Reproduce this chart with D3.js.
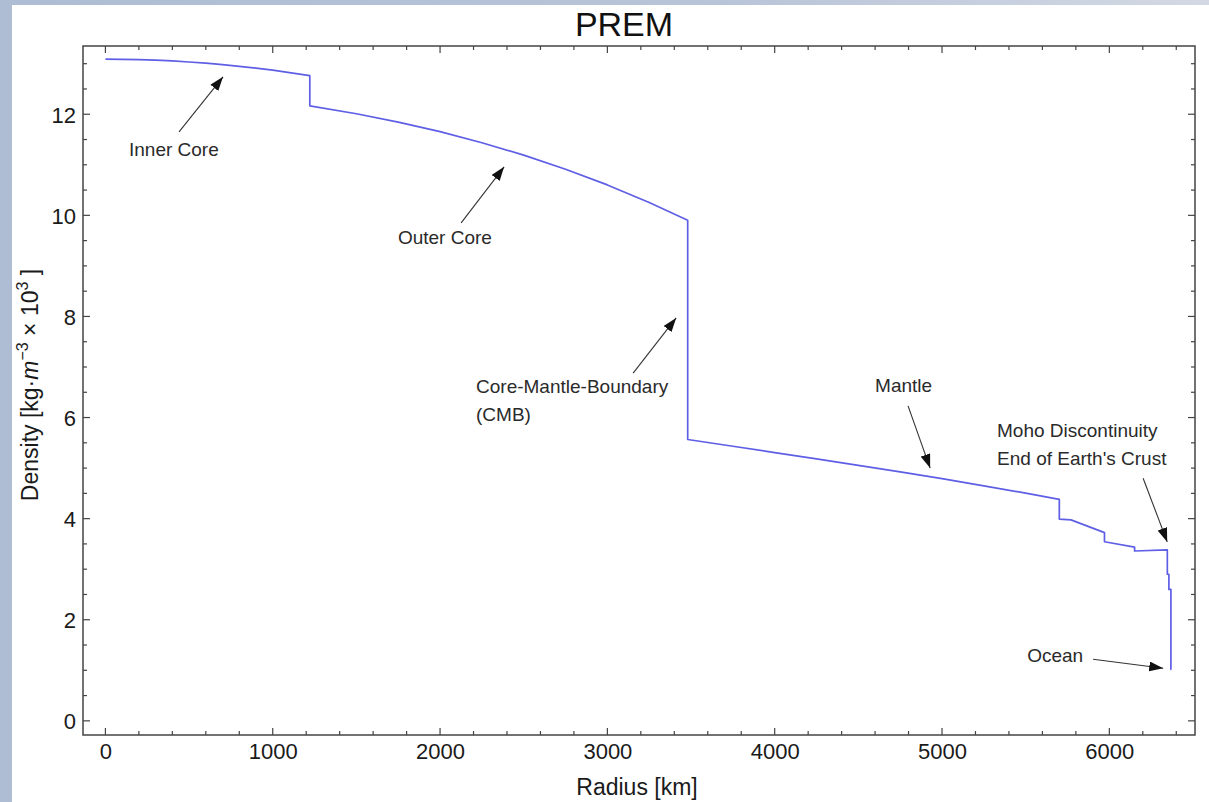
<!DOCTYPE html>
<html>
<head>
<meta charset="utf-8">
<script src="https://cdn.jsdelivr.net/npm/d3@7"></script>
<style>
  html, body { margin: 0; padding: 0; }
  body { width: 1209px; height: 802px; overflow: hidden; }
  svg { display: block; }
</style>
</head>
<body>
<svg id="chart" width="1209" height="802"></svg>
<script>
// ---- Data ----
const radiusKm = [
  0, 100, 200, 300, 400, 500, 600, 700, 800, 900, 1000, 1100, 1221.5,
  1221.5, 1500, 1750, 2000, 2250, 2500, 2750, 3000, 3250, 3480,
  3480, 3750, 4000, 4250, 4500, 4750, 5000, 5250, 5500, 5701,
  5701, 5771, 5971,
  5971, 6151,
  6151, 6346.6,
  6346.6, 6356,
  6356, 6368,
  6368, 6371
];
const density = [
  13.09, 13.086, 13.08, 13.069, 13.054, 13.034, 13.01, 12.982, 12.948, 12.912, 12.871, 12.825, 12.764,
  12.166, 12.01, 11.845, 11.655, 11.437, 11.191, 10.913, 10.602, 10.255, 9.904,
  5.566, 5.432, 5.307, 5.182, 5.055, 4.924, 4.79, 4.65, 4.504, 4.381,
  3.992, 3.976, 3.724,
  3.543, 3.436,
  3.36, 3.381,
  2.90, 2.90,
  2.60, 2.60,
  1.02, 1.02
];
const xTickValues = [0, 1000, 2000, 3000, 4000, 5000, 6000];
const yTickValues = [0, 2, 4, 6, 8, 10, 12];

// annotations: text lines, text anchor (data coords), arrow tail & tip (data coords)
const annotations = [
  { lines: ["Inner Core"], tx: 141, ty: 11.17, ax: 440, ay: 11.65, bx: 703, by: 12.74 },
  { lines: ["Outer Core"], tx: 1748, ty: 9.43, ax: 2126, ay: 9.85, bx: 2383, by: 10.96 },
  { lines: ["Core-Mantle-Boundary", "(CMB)"], tx: 2215, ty: 6.49, ax: 3154, ay: 6.88, bx: 3411, by: 7.97 },
  { lines: ["Mantle"], tx: 4600, ty: 6.50, ax: 4797, ay: 6.23, bx: 4929, by: 5.0 },
  { lines: ["Moho Discontinuity", "End of Earth's Crust"], tx: 5329, ty: 5.61, ax: 6202, ay: 4.80, bx: 6346, by: 3.54 },
  { lines: ["Ocean"], tx: 5509, ty: 1.16, ax: 5903, ay: 1.22, bx: 6322, by: 1.04 }
];

// ---- Layout ----
const svg = d3.select("#chart");
const W = 1209, H = 802;
const frame = { left: 83, top: 46, right: 1195, bottom: 735 };

// background
const defs = svg.append("defs");
const bg = defs.append("linearGradient").attr("id", "bg").attr("x1", "0").attr("y1", "0").attr("x2", "1").attr("y2", "0");
bg.append("stop").attr("offset", "0").attr("stop-color", "#aebdd3");
bg.append("stop").attr("offset", "0.6").attr("stop-color", "#b8c4d8");
bg.append("stop").attr("offset", "1").attr("stop-color", "#d3d9e4");
svg.append("rect").attr("width", W).attr("height", H).attr("fill", "url(#bg)");
svg.append("rect").attr("x", 12).attr("y", 5).attr("width", W - 12).attr("height", H - 5).attr("fill", "#ffffff");

const marker = defs.append("marker")
  .attr("id", "arrow").attr("viewBox", "0 0 14 10")
  .attr("refX", 14).attr("refY", 5)
  .attr("markerWidth", 14).attr("markerHeight", 10)
  .attr("markerUnits", "userSpaceOnUse")
  .attr("orient", "auto");
marker.append("path").attr("d", "M0,0 L14,5 L0,10 Z").attr("fill", "#111");

const x = d3.scaleLinear().domain([-134, 6512]).range([frame.left, frame.right]);
const y = d3.scaleLinear().domain([-0.28, 13.35]).range([frame.bottom, frame.top]);

const font = "'Liberation Sans', Arial, sans-serif";
const frameColor = "#444";

// ticks
const xMinor = d3.range(0, 6401, 200);
const yMinor = d3.range(0, 13.01, 0.5);
const tickG = svg.append("g").attr("stroke", frameColor).attr("stroke-width", 1.2);
xMinor.forEach(v => {
  const len = (v % 1000 === 0) ? 7 : 4;
  tickG.append("line").attr("x1", x(v)).attr("x2", x(v)).attr("y1", frame.bottom).attr("y2", frame.bottom - len);
  tickG.append("line").attr("x1", x(v)).attr("x2", x(v)).attr("y1", frame.top).attr("y2", frame.top + len);
});
yMinor.forEach(v => {
  const len = (Math.abs(v % 2) < 1e-9) ? 7 : 4;
  tickG.append("line").attr("y1", y(v)).attr("y2", y(v)).attr("x1", frame.left).attr("x2", frame.left + len);
  tickG.append("line").attr("y1", y(v)).attr("y2", y(v)).attr("x1", frame.right).attr("x2", frame.right - len);
});

// axes labels via d3 axes (lines hidden, labels only)
const xAxis = d3.axisBottom(x).tickValues(xTickValues).tickSize(0).tickPadding(0).tickFormat(d3.format("d"));
const xg = svg.append("g").attr("transform", `translate(0,${frame.bottom + 8})`).call(xAxis);
xg.select(".domain").remove();
xg.selectAll("text").attr("font-family", font).attr("font-size", 22).attr("fill", "#1a1a1a").attr("dy", "0.71em");

const yAxis = d3.axisLeft(y).tickValues(yTickValues).tickSize(0).tickPadding(0).tickFormat(d3.format("d"));
const yg = svg.append("g").attr("transform", `translate(${frame.left - 7},0)`).call(yAxis);
yg.select(".domain").remove();
yg.selectAll("text").attr("font-family", font).attr("font-size", 22).attr("fill", "#1a1a1a").attr("dy", "0.36em");

// frame
svg.append("rect")
  .attr("x", frame.left).attr("y", frame.top)
  .attr("width", frame.right - frame.left).attr("height", frame.bottom - frame.top)
  .attr("fill", "none").attr("stroke", frameColor).attr("stroke-width", 1.5);

// data line
const pts = radiusKm.map((r, i) => [r, density[i]]);
const line = d3.line().x(d => x(d[0])).y(d => y(d[1]));
svg.append("path").datum(pts)
  .attr("d", line)
  .attr("fill", "none")
  .attr("stroke", "#5f5fe6")
  .attr("stroke-width", 1.7)
  .attr("stroke-linejoin", "round");

// annotations
const annG = svg.append("g");
annotations.forEach(a => {
  annG.append("line")
    .attr("x1", x(a.ax)).attr("y1", y(a.ay))
    .attr("x2", x(a.bx)).attr("y2", y(a.by))
    .attr("stroke", "#333").attr("stroke-width", 1.1)
    .attr("marker-end", "url(#arrow)");
  const t = annG.append("text")
    .attr("x", x(a.tx)).attr("y", y(a.ty))
    .attr("font-family", font).attr("font-size", 19).attr("fill", "#2a2a2a");
  a.lines.forEach((l, i) => {
    t.append("tspan").attr("x", x(a.tx)).attr("dy", i === 0 ? 0 : 28).text(l);
  });
});

// title
svg.append("text").attr("x", 624).attr("y", 36)
  .attr("text-anchor", "middle").attr("font-family", font).attr("font-size", 34).attr("fill", "#111")
  .text("PREM");

// x title
svg.append("text").attr("x", 637).attr("y", 795)
  .attr("text-anchor", "middle").attr("font-family", font).attr("font-size", 23).attr("fill", "#1a1a1a")
  .text("Radius [km]");

// y title
const yt = svg.append("text")
  .attr("transform", `translate(38,385) rotate(-90)`)
  .attr("text-anchor", "middle").attr("font-family", font).attr("font-size", 23).attr("fill", "#1a1a1a");
yt.append("tspan").text("Density [kg\u00B7");
yt.append("tspan").attr("font-style", "italic").text("m");
yt.append("tspan").attr("dy", -10).attr("font-size", 16).text("\u22123");
yt.append("tspan").attr("dy", 10).text(" \u00D7 10");
yt.append("tspan").attr("dy", -10).attr("font-size", 16).text("3");
yt.append("tspan").attr("dy", 10).text(" ]");
</script>
</body>
</html>
